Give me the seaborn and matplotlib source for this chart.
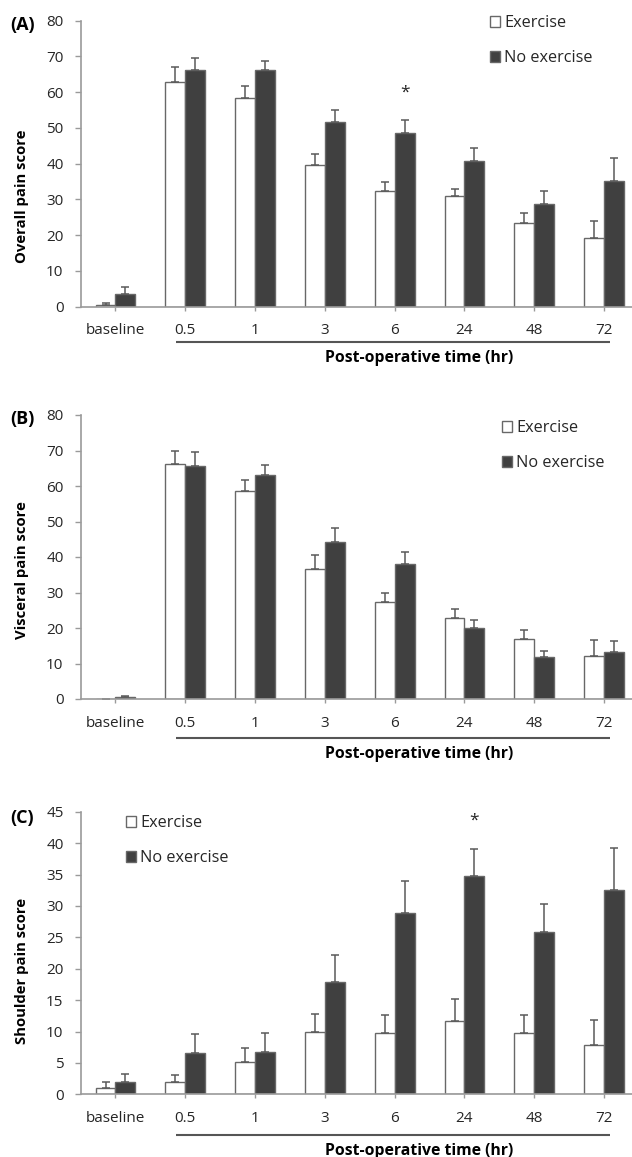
import numpy as np
import pandas as pd
import matplotlib
matplotlib.use("Agg")
import matplotlib.pyplot as plt
import seaborn as sns

# ---------------- data ----------------
time_labels = ["baseline", "0.5", "1", "3", "6", "24", "48", "72"]
groups = ["Exercise", "No exercise"]

overall_ex = [0.5, 62.9, 58.4, 39.6, 32.5, 31.0, 23.3, 19.1]
overall_ex_err = [0.5, 4.1, 3.4, 3.2, 2.5, 2.0, 2.8, 5.0]
overall_no = [3.5, 66.2, 66.3, 51.8, 48.7, 40.7, 28.7, 35.3]
overall_no_err = [2.1, 3.5, 2.4, 3.1, 3.4, 3.8, 3.7, 6.2]

visceral_ex = [0.0, 66.2, 58.5, 36.7, 27.2, 22.7, 17.0, 12.0]
visceral_ex_err = [0.0, 3.8, 3.3, 3.9, 2.6, 2.7, 2.3, 4.7]
visceral_no = [0.5, 65.5, 63.1, 44.3, 38.1, 19.9, 11.7, 13.1]
visceral_no_err = [0.35, 4.1, 2.9, 3.8, 3.4, 2.4, 1.8, 3.1]

shoulder_ex = [1.0, 1.9, 5.2, 10.0, 9.7, 11.7, 9.7, 7.9]
shoulder_ex_err = [0.95, 1.2, 2.2, 2.8, 3.0, 3.5, 3.0, 4.0]
shoulder_no = [2.0, 6.6, 6.8, 17.9, 28.8, 34.7, 25.8, 32.5]
shoulder_no_err = [1.2, 3.0, 3.0, 4.3, 5.2, 4.4, 4.5, 6.7]

panel_letters = ["(A)", "(B)", "(C)"]
y_titles = ["Overall pain score", "Visceral pain score", "Shoulder pain score"]
x_title = "Post-operative time (hr)"
y_max = [80, 80, 45]
y_step = [10, 10, 5]
star_time = ["6", None, "24"]  # significance star over "No exercise"

panels = [
    (overall_ex, overall_ex_err, overall_no, overall_no_err),
    (visceral_ex, visceral_ex_err, visceral_no, visceral_no_err),
    (shoulder_ex, shoulder_ex_err, shoulder_no, shoulder_no_err),
]

# ---------------- style ----------------
sns.set_style("ticks")
plt.rcParams["font.family"] = ["Open Sans", "DejaVu Sans"]
plt.rcParams["font.size"] = 10

W, H = 632, 1157
fig = plt.figure(figsize=(W / 100, H / 100), dpi=100)

axis_gray = "#9a9a9a"
edge_gray = "#686868"
dark = "#404040"
txt = "#262626"

# layout in pixels: (top of axis, y zero)
layout = [(20.7, 306.7), (415.0, 699.0), (811.7, 1094.3)]
left_px = 80.6
ylabel_frac = [0.385, 0.454, 0.437]
under_px = [35, 39, 41]
xlab_px = [52, 56, 58]
letter_y = [25, 419, 818]
legend_pos = [(490, 23.3), (502, 428.3), (126, 823.3)]  # handle left, first row centre

for i, (ex, ex_err, no, no_err) in enumerate(panels):
    top_px, zero_px = layout[i]
    ax = fig.add_axes([left_px / W, 1 - zero_px / H, (W - left_px) / W,
                       (zero_px - top_px) / H])
    axh = zero_px - top_px

    df = pd.DataFrame({
        "time": time_labels * 2,
        "group": [groups[0]] * len(time_labels) + [groups[1]] * len(time_labels),
        "score": list(ex) + list(no),
    })
    errs = {groups[0]: ex_err, groups[1]: no_err}

    sns.barplot(data=df, x="time", y="score", hue="group", order=time_labels,
                hue_order=groups, palette={groups[0]: "white", groups[1]: dark},
                edgecolor=edge_gray, linewidth=1.0, width=0.57, gap=0,
                errorbar=None, ax=ax, legend=True, saturation=1)

    # error bars (upper only) placed on the library's bar positions
    for cont, g in zip(ax.containers, groups):
        xs = [p.get_x() + p.get_width() / 2 for p in cont.patches]
        hs = [p.get_height() for p in cont.patches]
        e = np.array(errs[g])
        ax.errorbar(xs, hs, yerr=[np.zeros_like(e), e], fmt="none",
                    ecolor="#5a5a5a", elinewidth=1.1, capsize=2.9,
                    capthick=1.1, zorder=1)
        if g == groups[1] and star_time[i] is not None:
            k = time_labels.index(star_time[i])
            ax.annotate("*", xy=(xs[k], hs[k] + e[k]), xytext=(0, 20),
                        textcoords="offset points", ha="center", va="center",
                        fontsize=12.5, color=txt)

    ax.set_xlim(-0.5, 7.4)
    ax.set_ylim(0, y_max[i])
    ax.set_yticks(np.arange(0, y_max[i] + 0.1, y_step[i]))
    sns.despine(ax=ax)
    for s in ["left", "bottom"]:
        ax.spines[s].set_color(axis_gray)
        ax.spines[s].set_linewidth(1.2)
    ax.tick_params(axis="y", length=4.3, width=1, color=axis_gray, pad=8.0,
                   labelsize=11, labelcolor=txt)
    ax.tick_params(axis="x", length=2.9, width=1, color=axis_gray, pad=9.0,
                   labelsize=11, labelcolor=txt)

    ax.set_ylabel(y_titles[i], fontweight="bold", fontsize=10.7, color="black")
    ax.yaxis.set_label_coords(-0.094, ylabel_frac[i])
    ax.set_xlabel(x_title, fontweight="bold", fontsize=11.3, color="black")
    ax.xaxis.set_label_coords((419 - left_px) / (W - left_px),
                              -(xlab_px[i] - 9) / axh)

    # underline below post-operative time points
    trans = ax.get_xaxis_transform()
    ax.plot([0.87, 7.09], [-under_px[i] / axh] * 2, color="#555555", lw=1.5,
            transform=trans, clip_on=False, solid_capstyle="butt")

    # legend
    lx, ly = legend_pos[i]
    sns.move_legend(ax, "upper left",
                    bbox_to_anchor=(lx / W, 1 - (ly - 8.0) / H),
                    bbox_transform=fig.transFigure, frameon=False, title=None,
                    fontsize=11.7, handlelength=0.62, handleheight=0.62,
                    handletextpad=0.25, labelspacing=1.15, borderpad=0,
                    borderaxespad=0)

    fig.text(10 / W, 1 - letter_y[i] / H, panel_letters[i], fontweight="bold",
             fontsize=13, ha="left", va="center", color="black")

fig.savefig("out.png", dpi=100)
